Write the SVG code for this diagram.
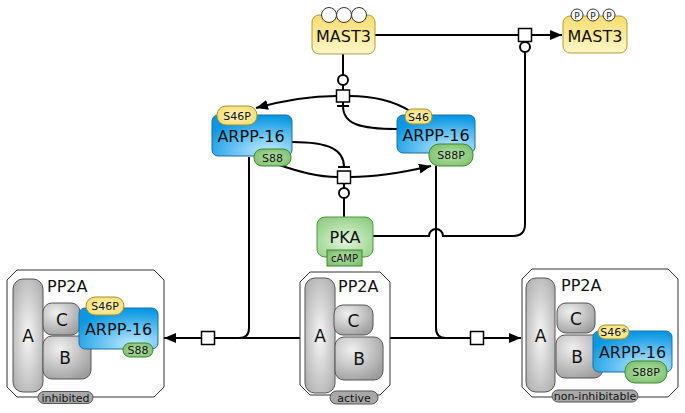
<svg xmlns="http://www.w3.org/2000/svg" width="685" height="413" viewBox="0 0 685 413">
<defs>
<linearGradient id="gY" x1="0" y1="0" x2="0" y2="1"><stop offset="0" stop-color="#f7dc6c"/><stop offset="1" stop-color="#fff6c8"/></linearGradient>
<radialGradient id="gB" cx="0.7" cy="0.9" r="0.85"><stop offset="0" stop-color="#c4ecff"/><stop offset="1" stop-color="#0a98e4"/></radialGradient>
<radialGradient id="gG" cx="0.5" cy="0.6" r="0.7"><stop offset="0" stop-color="#e2f5dc"/><stop offset="1" stop-color="#8dcc7e"/></radialGradient>
<radialGradient id="gS" cx="0.5" cy="0.5" r="0.6"><stop offset="0" stop-color="#fff6b8"/><stop offset="1" stop-color="#f4dc70"/></radialGradient>
<radialGradient id="gS2" cx="0.5" cy="0.5" r="0.6"><stop offset="0" stop-color="#b8e2ac"/><stop offset="1" stop-color="#7cbf6c"/></radialGradient>
<radialGradient id="gA" cx="0.5" cy="0.5" r="0.7"><stop offset="0" stop-color="#f6f6f6"/><stop offset="1" stop-color="#a8a8a8"/></radialGradient>
<radialGradient id="gC" cx="0.35" cy="0.3" r="0.8"><stop offset="0" stop-color="#f0f0f0"/><stop offset="1" stop-color="#9c9c9c"/></radialGradient>
<marker id="arr" markerUnits="userSpaceOnUse" markerWidth="13" markerHeight="11" refX="12" refY="5" orient="auto"><path d="M0,0 L12,5 L0,10 z" fill="#000"/></marker>
</defs>
<style>
text{font-family:"DejaVu Sans","Liberation Sans",sans-serif;fill:#111}
.ln{fill:none;stroke:#000;stroke-width:2}
.sq{fill:#fff;stroke:#000;stroke-width:1.5}
.ci{fill:#fff;stroke:#000;stroke-width:2}
.yel{fill:url(#gY);stroke:#b09a3a;stroke-width:1}
.blu{fill:url(#gB);stroke:#1a6ea8;stroke-width:1}
.grn{fill:url(#gG);stroke:#4a9a3e;stroke-width:1}
.sy{fill:url(#gS);stroke:#a89030;stroke-width:1}
.sg{fill:url(#gS2);stroke:#3c8a30;stroke-width:1}
.ga{fill:url(#gA);stroke:#555;stroke-width:1}
.gc{fill:url(#gC);stroke:#555;stroke-width:1}
.cx{fill:#fff;stroke:#333;stroke-width:1}
.pill{fill:#a8a8a8;stroke:#555;stroke-width:1}
.big{font-size:16px;text-anchor:middle}
.sm{font-size:11px;text-anchor:middle}
.lt{font-size:17px;text-anchor:middle}
</style>

<g id="connectors">
<path class="ln" d="M375,35 L518.5,35 M531.5,35 L562,35" marker-end="url(#arr)"/>
<path class="ln" d="M525,41.5 L525,42 M525,52 L525,224 Q525,236 513,236 L443,236 A7,7 0 0 0 429,236 L373,236"/>
<path class="ln" d="M343,54 L343,75 M343,85 L343,90"/>
<path class="ln" d="M410,111 C392,100 370,96 349.5,96"/>
<path class="ln" d="M336.5,96 C312,96 285,100 256,108" marker-end="url(#arr)"/>
<path class="ln" d="M343,102 L343,106 M337,106 L349,106"/>
<path class="ln" d="M397,129 C360,129 343,124 343,106"/>
<path class="ln" d="M292,142 C330,142 344,150 344,167 M338,167 L350,167"/>
<path class="ln" d="M276,164 C300,172 318,177 337.5,177"/>
<path class="ln" d="M350.5,177 C380,177 405,172 431,166" marker-end="url(#arr)"/>
<path class="ln" d="M344,183.5 L344,188 M344,198 L344,217"/>
<path class="ln" d="M249,157 L249,328 Q249,338 239,338"/>
<path class="ln" d="M300,338 L214.5,338 M201.5,338 L164,338" marker-end="url(#arr)"/>
<path class="ln" d="M436,166 L436,328 Q436,338 446,338"/>
<path class="ln" d="M390,338 L470.5,338 M483.5,338 L521,338" marker-end="url(#arr)"/>
<rect class="sq" x="518.5" y="28.5" width="13" height="13"/>
<circle class="ci" cx="525" cy="47" r="5"/>
<circle class="ci" cx="343" cy="80" r="5"/>
<rect class="sq" x="336.5" y="90" width="13" height="12"/>
<rect class="sq" x="337.5" y="171" width="13" height="12.5"/>
<circle class="ci" cx="344" cy="193" r="5"/>
<rect class="sq" x="201.5" y="331.5" width="13" height="13"/>
<rect class="sq" x="470.5" y="331.5" width="13" height="13"/>
</g>

<g id="mast3-left">
<rect class="yel" x="312" y="15" width="63" height="39" rx="7"/>
<circle class="cx" cx="329" cy="15" r="7.5"/>
<circle class="cx" cx="344" cy="15" r="7.5"/>
<circle class="cx" cx="359" cy="15" r="7.5"/>
<text class="big" x="343.5" y="42">MAST3</text>
</g>

<g id="mast3-right">
<rect class="yel" x="563" y="16" width="64" height="37" rx="7"/>
<circle class="cx" cx="577" cy="15" r="6"/>
<circle class="cx" cx="593" cy="15" r="6"/>
<circle class="cx" cx="609" cy="15" r="6"/>
<text x="577" y="18.5" style="font-size:9px;text-anchor:middle">P</text>
<text x="593" y="18.5" style="font-size:9px;text-anchor:middle">P</text>
<text x="609" y="18.5" style="font-size:9px;text-anchor:middle">P</text>
<text class="big" x="595" y="42">MAST3</text>
</g>

<g id="arpp16-left">
<rect class="blu" x="212" y="115" width="80" height="41" rx="6"/>
<text class="big" x="251" y="142">ARPP-16</text>
<rect class="sy" x="217" y="106" width="40" height="19" rx="9"/>
<text class="sm" x="237" y="119.5">S46P</text>
<rect class="sg" x="254" y="149" width="37" height="17" rx="8"/>
<text class="sm" x="272.5" y="161.5">S88</text>
</g>

<g id="arpp16-right">
<rect class="blu" x="397" y="115" width="78" height="38" rx="6"/>
<text class="big" x="436" y="141">ARPP-16</text>
<rect class="sy" x="405" y="109" width="27" height="15" rx="7"/>
<text class="sm" x="418.5" y="120.5">S46</text>
<rect class="sg" x="429" y="144" width="44" height="22" rx="10"/>
<text class="sm" x="451" y="159">S88P</text>
</g>

<g id="pka">
<rect class="grn" x="317" y="217" width="56" height="40" rx="8"/>
<text class="big" x="345" y="243">PKA</text>
<rect class="sg" x="327" y="250" width="35" height="16"/>
<text x="344.5" y="262" style="font-size:10px;text-anchor:middle">cAMP</text>
</g>

<g id="pp2a-inhibited">
<path d="M17,270 L154,270 L164,280 L164,387 L154,397 L17,397 L7,387 L7,280 Z" fill="#fff" stroke="#333" stroke-width="1"/>
<rect class="ga" x="13" y="279" width="30" height="113" rx="10"/>
<text class="lt" x="28" y="342">A</text>
<text x="47" y="292" style="font-size:16px">PP2A</text>
<rect class="gc" x="43" y="303" width="37" height="32" rx="9"/>
<text class="lt" x="62" y="326">C</text>
<rect class="gc" x="43" y="336" width="48" height="43" rx="9"/>
<text class="lt" x="65" y="364">B</text>
<rect class="blu" x="79" y="308" width="79" height="41" rx="6"/>
<text class="big" x="118.5" y="335">ARPP-16</text>
<rect class="sy" x="86" y="297" width="38" height="18" rx="9"/>
<text class="sm" x="105" y="310">S46P</text>
<rect class="sg" x="123" y="343" width="30" height="14" rx="7"/>
<text class="sm" x="138" y="354">S88</text>
<rect class="pill" x="38" y="391.5" width="55" height="12" rx="6"/>
<text x="65.5" y="401.5" style="font-size:11px;text-anchor:middle">inhibited</text>
</g>

<g id="pp2a-active">
<path d="M310,272 L380,272 L390,282 L390,385 L380,395 L310,395 L300,385 L300,282 Z" fill="#fff" stroke="#333" stroke-width="1"/>
<rect class="ga" x="305" y="278" width="30" height="115" rx="10"/>
<text class="lt" x="320" y="342">A</text>
<text x="338" y="292" style="font-size:16px">PP2A</text>
<rect class="gc" x="334" y="305" width="39" height="30" rx="9"/>
<text class="lt" x="353.5" y="327">C</text>
<rect class="gc" x="335" y="337" width="48" height="43" rx="9"/>
<text class="lt" x="359" y="365">B</text>
<rect class="pill" x="330" y="391" width="48" height="13" rx="6.5"/>
<text x="354" y="401.5" style="font-size:11px;text-anchor:middle">active</text>
</g>

<g id="pp2a-noninhibitable">
<path d="M532,269 L668,269 L678,279 L678,387 L668,397 L532,397 L522,387 L522,279 Z" fill="#fff" stroke="#333" stroke-width="1"/>
<rect class="ga" x="526" y="278" width="29" height="114" rx="10"/>
<text class="lt" x="540.5" y="342">A</text>
<text x="561" y="291" style="font-size:16px">PP2A</text>
<rect class="gc" x="557" y="303" width="38" height="30" rx="9"/>
<text class="lt" x="576" y="325">C</text>
<rect class="gc" x="556" y="335" width="47" height="43" rx="9"/>
<text class="lt" x="577" y="363">B</text>
<rect class="blu" x="593" y="331" width="79" height="41" rx="6"/>
<text class="big" x="632.5" y="358">ARPP-16</text>
<rect class="sy" x="598" y="325" width="31" height="14" rx="7"/>
<text class="sm" x="613.5" y="336">S46*</text>
<rect class="sg" x="625" y="361" width="42" height="22" rx="10"/>
<text class="sm" x="646" y="376">S88P</text>
<rect class="pill" x="552" y="390" width="86" height="12" rx="6"/>
<text x="595" y="400" style="font-size:11px;text-anchor:middle">non-inhibitable</text>
</g>
</svg>
